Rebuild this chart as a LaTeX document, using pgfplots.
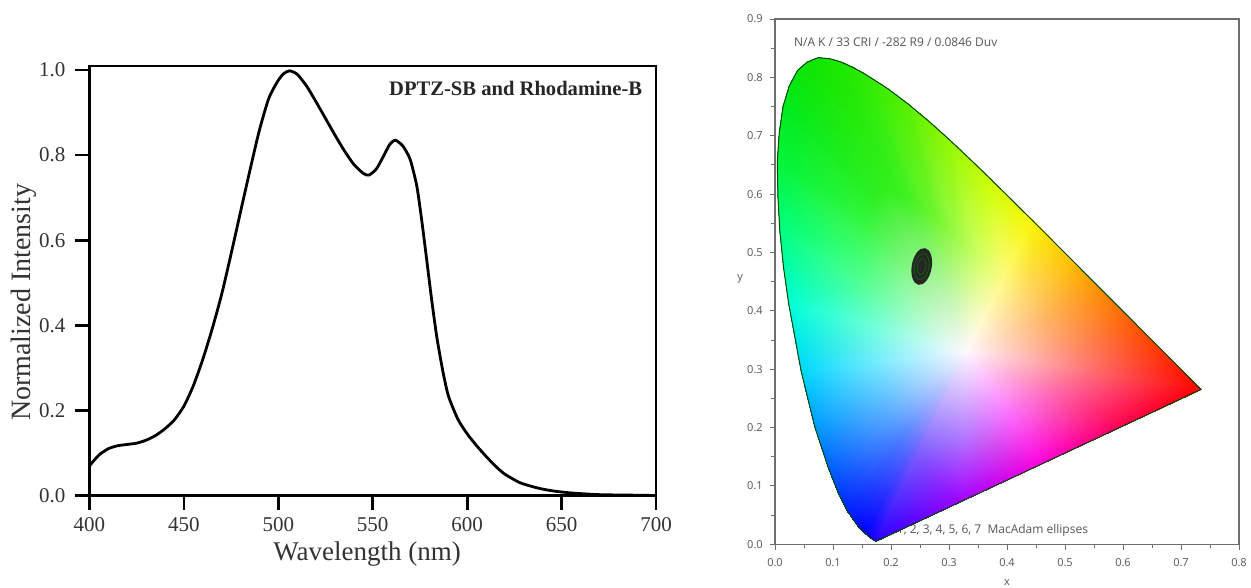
\documentclass[border=0pt]{standalone}
\usepackage{fontspec}
\setmainfont{Liberation Serif}
\newfontfamily\cief{Open Sans}
\usepackage{pgfplots}
\usepackage{pgfplotstable}
\pgfplotsset{compat=1.18}

% emission spectrum
\pgfplotstableread{
wl I
400 0.070
405 0.095
410 0.110
415 0.117
420 0.120
425 0.123
430 0.130
435 0.141
440 0.157
445 0.178
450 0.210
455 0.258
460 0.320
465 0.392
470 0.473
475 0.568
480 0.667
485 0.765
490 0.859
495 0.934
500 0.976
503 0.992
506 0.998
510 0.990
515 0.962
520 0.925
525 0.886
530 0.847
535 0.810
540 0.778
545 0.757
548 0.753
552 0.768
556 0.800
559 0.825
562 0.835
566 0.821
569.8 0.790
573.3 0.728
575.9 0.648
578.6 0.553
581.2 0.460
583.9 0.373
587 0.295
590 0.235
595 0.180
600 0.145
605 0.117
610 0.092
615 0.069
620 0.050
628 0.030
637 0.018
645 0.011
655 0.006
670 0.002
685 0.001
700 0.000
}\spectrum

% CIE 1931 gamut: boundary ring (0-28), inner ring (29-57), white point (58)
\pgfplotstableread{
x y c
0.1741 0.0050 rgb255=40,0,255
0.1644 0.0109 rgb255=15,0,255
0.1566 0.0177 rgb255=0,0,255
0.1440 0.0297 rgb255=0,10,255
0.1241 0.0578 rgb255=0,35,255
0.1096 0.0868 rgb255=0,60,255
0.0913 0.1327 rgb255=0,100,255
0.0687 0.2007 rgb255=0,155,255
0.0454 0.2950 rgb255=0,215,255
0.0235 0.4127 rgb255=0,255,215
0.0082 0.5384 rgb255=0,255,130
0.0039 0.6548 rgb255=0,245,60
0.0139 0.7502 rgb255=0,235,30
0.0389 0.8120 rgb255=10,230,10
0.0743 0.8338 rgb255=20,230,0
0.1142 0.8262 rgb255=30,232,0
0.1547 0.8059 rgb255=45,235,0
0.2296 0.7543 rgb255=90,240,0
0.3016 0.6923 rgb255=150,248,0
0.3731 0.6245 rgb255=205,255,0
0.4441 0.5547 rgb255=250,245,0
0.5125 0.4866 rgb255=255,190,0
0.5752 0.4242 rgb255=255,130,0
0.6270 0.3725 rgb255=255,85,0
0.6915 0.3083 rgb255=255,35,0
0.7347 0.2653 rgb255=255,0,0
0.6000 0.2027 rgb255=255,0,80
0.4600 0.1377 rgb255=255,0,220
0.3200 0.0727 rgb255=160,0,255
0.2443 0.1512 rgb255=120,90,255
0.2389 0.1545 rgb255=105,95,255
0.2346 0.1582 rgb255=95,100,255
0.2277 0.1648 rgb255=85,110,255
0.2168 0.1803 rgb255=75,125,255
0.2088 0.1962 rgb255=80,145,255
0.1987 0.2215 rgb255=90,170,255
0.1863 0.2589 rgb255=100,200,255
0.1735 0.3107 rgb255=115,235,255
0.1614 0.3755 rgb255=105,255,215
0.1530 0.4446 rgb255=85,255,150
0.1506 0.5086 rgb255=65,252,100
0.1561 0.5611 rgb255=50,245,55
0.1699 0.5951 rgb255=45,240,35
0.1894 0.6071 rgb255=50,240,30
0.2113 0.6029 rgb255=55,240,30
0.2336 0.5917 rgb255=70,242,35
0.2748 0.5634 rgb255=110,245,45
0.3144 0.5293 rgb255=160,250,70
0.3537 0.4920 rgb255=210,255,100
0.3928 0.4536 rgb255=255,250,130
0.4304 0.4161 rgb255=255,212,115
0.4649 0.3818 rgb255=255,180,105
0.4934 0.3534 rgb255=255,158,105
0.5288 0.3181 rgb255=255,128,110
0.5526 0.2944 rgb255=255,105,110
0.4785 0.2600 rgb255=255,105,175
0.4015 0.2242 rgb255=250,115,255
0.3245 0.1885 rgb255=180,125,255
0.3300 0.3300 rgb255=255,248,255
}\cieverts

% spectral locus outline (380 -> 700 nm) closed by the purple line
\pgfplotstableread{
x y
0.1741 0.0050
0.1644 0.0109
0.1566 0.0177
0.1440 0.0297
0.1241 0.0578
0.1096 0.0868
0.0913 0.1327
0.0687 0.2007
0.0454 0.2950
0.0235 0.4127
0.0145 0.4760
0.0082 0.5384
0.0050 0.5970
0.0039 0.6548
0.0072 0.7040
0.0139 0.7502
0.0245 0.7850
0.0389 0.8120
0.0555 0.8260
0.0743 0.8338
0.0940 0.8320
0.1142 0.8262
0.1345 0.8170
0.1547 0.8059
0.1929 0.7816
0.2296 0.7543
0.2658 0.7243
0.3016 0.6923
0.3373 0.6589
0.3731 0.6245
0.4441 0.5547
0.5125 0.4866
0.5752 0.4242
0.6270 0.3725
0.6915 0.3083
0.7347 0.2653
0.1741 0.0050
}\locus

\definecolor{cieframe}{RGB}{110,110,110}
\definecolor{cietext}{RGB}{85,85,85}

\pgfdeclareplotmark{macadam}{%
  \pgftransformrotate{-10}%
  \pgfpathellipse{\pgfpointorigin}{\pgfpoint{5pt}{0pt}}{\pgfpoint{0pt}{9.3pt}}%
  \pgfusepath{fill}%
  \pgfsetlinewidth{0.3pt}%
  \pgfsetstrokecolor{green!45!black}%
  \pgfpathellipse{\pgfpointorigin}{\pgfpoint{3.6pt}{0pt}}{\pgfpoint{0pt}{6.6pt}}%
  \pgfpathellipse{\pgfpointorigin}{\pgfpoint{2.1pt}{0pt}}{\pgfpoint{0pt}{4pt}}%
  \pgfusepath{stroke}%
}

\begin{document}
\begin{tikzpicture}
\useasboundingbox (0,0) rectangle (625.5pt,294pt);

\begin{axis}[
  name=spec,
  at={(44.75pt,46.25pt)}, anchor=origin,
  scale only axis,
  width=283.25pt, height=214.75pt,
  xmin=400, xmax=700, ymin=0, ymax=1.0094,
  xtick={400,450,...,700},
  ytick={0,0.2,0.4,0.6,0.8,1.0},
  xtick pos=bottom, ytick pos=left,
  tick align=outside,
  major tick length=7pt,
  axis line style={line width=1.4pt},
  every tick/.style={black, line width=1.4pt},
  /pgf/number format/assume math mode=true,
  tick label style={font=\fontsize{10.5}{12}\selectfont, text=black!80},
  yticklabel style={xshift=-1.5pt, /pgf/number format/.cd, fixed, fixed zerofill, precision=1},
  xticklabel style={yshift=-0.5pt, /pgf/number format/.cd, 1000 sep={}},
  xlabel={Wavelength (nm)},
  ylabel={Normalized Intensity},
  xlabel style={font=\fontsize{13.5}{15}\selectfont, text=black!80, at={(axis description cs:0.49,-0.137)}, anchor=center},
  ylabel style={font=\fontsize{14}{16}\selectfont, text=black!80, at={(axis description cs:-0.116,0.45)}, anchor=center},
]
\addplot[black, line width=1.4pt, smooth, tension=0.4] table[x=wl, y=I] \spectrum;
\node[anchor=east, font=\bfseries\fontsize{10.3}{12}\selectfont, text=black!85] at (axis description cs:0.988,0.947) {DPTZ-SB and Rhodamine-B};
\end{axis}

\begin{axis}[
  name=cie,
  at={(387.5pt,21.85pt)}, anchor=origin,
  scale only axis,
  width=232pt, height=262.65pt,
  xmin=0, xmax=0.8, ymin=0, ymax=0.9,
  xtick={0,0.1,...,0.8},
  ytick={0,0.1,...,0.9},
  minor tick num=1,
  xtick pos=bottom, ytick pos=left,
  tick align=outside,
  major tick length=2.6pt, minor tick length=2pt,
  axis line style={cieframe, line width=0.7pt},
  every tick/.style={cieframe, line width=0.5pt},
  /pgf/number format/assume math mode=true,
  tick label style={font=\cief\fontsize{5.5}{6}\selectfont, text=cietext},
  xticklabel style={yshift=-1pt, /pgf/number format/.cd, fixed, fixed zerofill, precision=1},
  yticklabel style={/pgf/number format/.cd, fixed, fixed zerofill, precision=1},
  xlabel={x}, ylabel={y},
  xlabel style={font=\cief\fontsize{5.5}{6}\selectfont, text=cietext, at={(axis description cs:0.5,-0.072)}, anchor=center},
  ylabel style={font=\cief\fontsize{5.5}{6}\selectfont, text=cietext, rotate=-90, at={(axis description cs:-0.075,0.505)}, anchor=center},
]
\node[anchor=west, font=\cief\fontsize{6}{7}\selectfont, text=cietext] at (axis cs:0.198,0.0245) {1, 2, 3, 4, 5, 6, 7\ \ MacAdam ellipses};
\addplot[patch, shader=interp, mesh/color input=explicit, point meta=explicit symbolic,
  table/row sep=\\,
  patch table={%
0 1 30\\ 0 30 29\\ 29 30 58\\
1 2 31\\ 1 31 30\\ 30 31 58\\
2 3 32\\ 2 32 31\\ 31 32 58\\
3 4 33\\ 3 33 32\\ 32 33 58\\
4 5 34\\ 4 34 33\\ 33 34 58\\
5 6 35\\ 5 35 34\\ 34 35 58\\
6 7 36\\ 6 36 35\\ 35 36 58\\
7 8 37\\ 7 37 36\\ 36 37 58\\
8 9 38\\ 8 38 37\\ 37 38 58\\
9 10 39\\ 9 39 38\\ 38 39 58\\
10 11 40\\ 10 40 39\\ 39 40 58\\
11 12 41\\ 11 41 40\\ 40 41 58\\
12 13 42\\ 12 42 41\\ 41 42 58\\
13 14 43\\ 13 43 42\\ 42 43 58\\
14 15 44\\ 14 44 43\\ 43 44 58\\
15 16 45\\ 15 45 44\\ 44 45 58\\
16 17 46\\ 16 46 45\\ 45 46 58\\
17 18 47\\ 17 47 46\\ 46 47 58\\
18 19 48\\ 18 48 47\\ 47 48 58\\
19 20 49\\ 19 49 48\\ 48 49 58\\
20 21 50\\ 20 50 49\\ 49 50 58\\
21 22 51\\ 21 51 50\\ 50 51 58\\
22 23 52\\ 22 52 51\\ 51 52 58\\
23 24 53\\ 23 53 52\\ 52 53 58\\
24 25 54\\ 24 54 53\\ 53 54 58\\
25 26 55\\ 25 55 54\\ 54 55 58\\
26 27 56\\ 26 56 55\\ 55 56 58\\
27 28 57\\ 27 57 56\\ 56 57 58\\
28 0 29\\ 28 29 57\\ 57 29 58\\
}] table[x=x, y=y, meta=c] \cieverts;
% thin slivers between the coarse fill and the finer locus
\addplot[patch, shader=interp, mesh/color input=explicit, point meta=explicit symbolic] coordinates {
(0.0235,0.4127) [rgb255=0,255,215] (0.0145,0.4760) [rgb255=0,255,172] (0.0082,0.5384) [rgb255=0,255,130]
(0.0082,0.5384) [rgb255=0,255,130] (0.0050,0.5970) [rgb255=0,250,95] (0.0039,0.6548) [rgb255=0,245,60]
(0.0039,0.6548) [rgb255=0,245,60] (0.0072,0.7040) [rgb255=0,240,45] (0.0139,0.7502) [rgb255=0,235,30]
(0.0139,0.7502) [rgb255=0,235,30] (0.0245,0.7850) [rgb255=5,232,20] (0.0389,0.8120) [rgb255=10,230,10]
(0.0389,0.8120) [rgb255=10,230,10] (0.0555,0.8260) [rgb255=15,230,5] (0.0743,0.8338) [rgb255=20,230,0]
(0.0743,0.8338) [rgb255=20,230,0] (0.0940,0.8320) [rgb255=25,231,0] (0.1142,0.8262) [rgb255=30,232,0]
(0.1142,0.8262) [rgb255=30,232,0] (0.1345,0.8170) [rgb255=38,233,0] (0.1547,0.8059) [rgb255=45,235,0]
(0.1547,0.8059) [rgb255=45,235,0] (0.1929,0.7816) [rgb255=68,238,0] (0.2296,0.7543) [rgb255=90,240,0]
(0.2296,0.7543) [rgb255=90,240,0] (0.2658,0.7243) [rgb255=120,244,0] (0.3016,0.6923) [rgb255=150,248,0]
(0.3016,0.6923) [rgb255=150,248,0] (0.3373,0.6589) [rgb255=178,252,0] (0.3731,0.6245) [rgb255=205,255,0]
};
\addplot[draw=black!60!green!70!black, line width=0.5pt] table[x=x, y=y] \locus;
\addplot[only marks, mark=macadam, mark options={fill=black!85, draw=black}] coordinates {(0.253,0.476)};
\node[anchor=west, font=\cief\fontsize{6}{7}\selectfont, text=cietext] at (axis cs:0.0207,0.86) {N/A K / 33 CRI / -282 R9 / 0.0846 Duv};
\end{axis}
\end{tikzpicture}
\end{document}
